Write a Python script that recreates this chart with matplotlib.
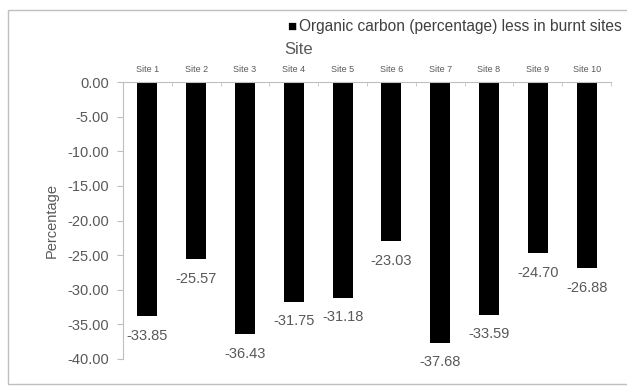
import matplotlib
matplotlib.use("Agg")
import matplotlib.pyplot as plt
from matplotlib.patches import Rectangle
import numpy as np

sites = ["Site 1", "Site 2", "Site 3", "Site 4", "Site 5", "Site 6", "Site 7", "Site 8", "Site 9", "Site 10"]
values = [-33.85, -25.57, -36.43, -31.75, -31.18, -23.03, -37.68, -33.59, -24.70, -26.88]
yticks = [0, -5, -10, -15, -20, -25, -30, -35, -40]
series_name = "Organic carbon (percentage) less in burnt sites"

plt.rcParams['font.family'] = ['Liberation Sans', 'DejaVu Sans']
gray = "#595959"

fig = plt.figure(figsize=(6.27, 3.87), dpi=100)
fig.patches.append(Rectangle((8/627, 0.008), 0.995, 1 - 10/387 - 0.008, transform=fig.transFigure,
                             fill=False, edgecolor="#bfbfbf", linewidth=1.0))
ax = fig.add_axes([123/627, 1 - 359/387, (611 - 123)/627, (359 - 82)/387])
x = np.arange(len(sites))
bars = ax.bar(x, values, width=0.41, color="black", label=series_name)
ax.set_xlim(-0.5, len(sites) - 0.5)
ax.set_ylim(-40, 0)
ax.set_yticks(yticks)
ax.set_yticklabels([f"{v:.2f}" for v in yticks], color=gray, fontsize=10.5)
ax.xaxis.tick_top()
ax.set_xticks(x)
ax.set_xticklabels(sites, fontsize=6.5, color=gray, family=['Liberation Sans Narrow', 'Liberation Sans'])
ax.tick_params(axis='x', length=0, pad=6)
ax.set_xticks(np.arange(-0.5, len(sites) + 0.5, 1), minor=True)
ax.tick_params(axis='x', which='minor', direction='in', length=3, color="#bfbfbf", top=True, bottom=False)
ax.tick_params(axis='y', length=4, color="#bfbfbf", pad=6)
for s in ["right", "bottom"]:
    ax.spines[s].set_visible(False)
ax.spines["top"].set_color("#bfbfbf")
ax.spines["left"].set_color("#bfbfbf")
for xi, v in zip(x, values):
    ax.annotate(f"{v:.2f}", (xi, v), xytext=(0, -9), textcoords="offset points",
                ha="center", va="top", fontsize=10.5, color=gray, annotation_clip=False)
ax.set_ylabel("Percentage", color=gray, fontsize=10.5, labelpad=6)
fig.text(299/627, 1 - 49/387, "Site", ha="center", va="center", fontsize=12, color=gray)
fig.text(287/627, 1 - 27/387, "\u25A0", ha="left", va="center", fontsize=11, color="black")
fig.text(299/627, 1 - 27/387, series_name, ha="left", va="center", fontsize=11.2, color="#404040")
fig.savefig("out.png", dpi=100)
